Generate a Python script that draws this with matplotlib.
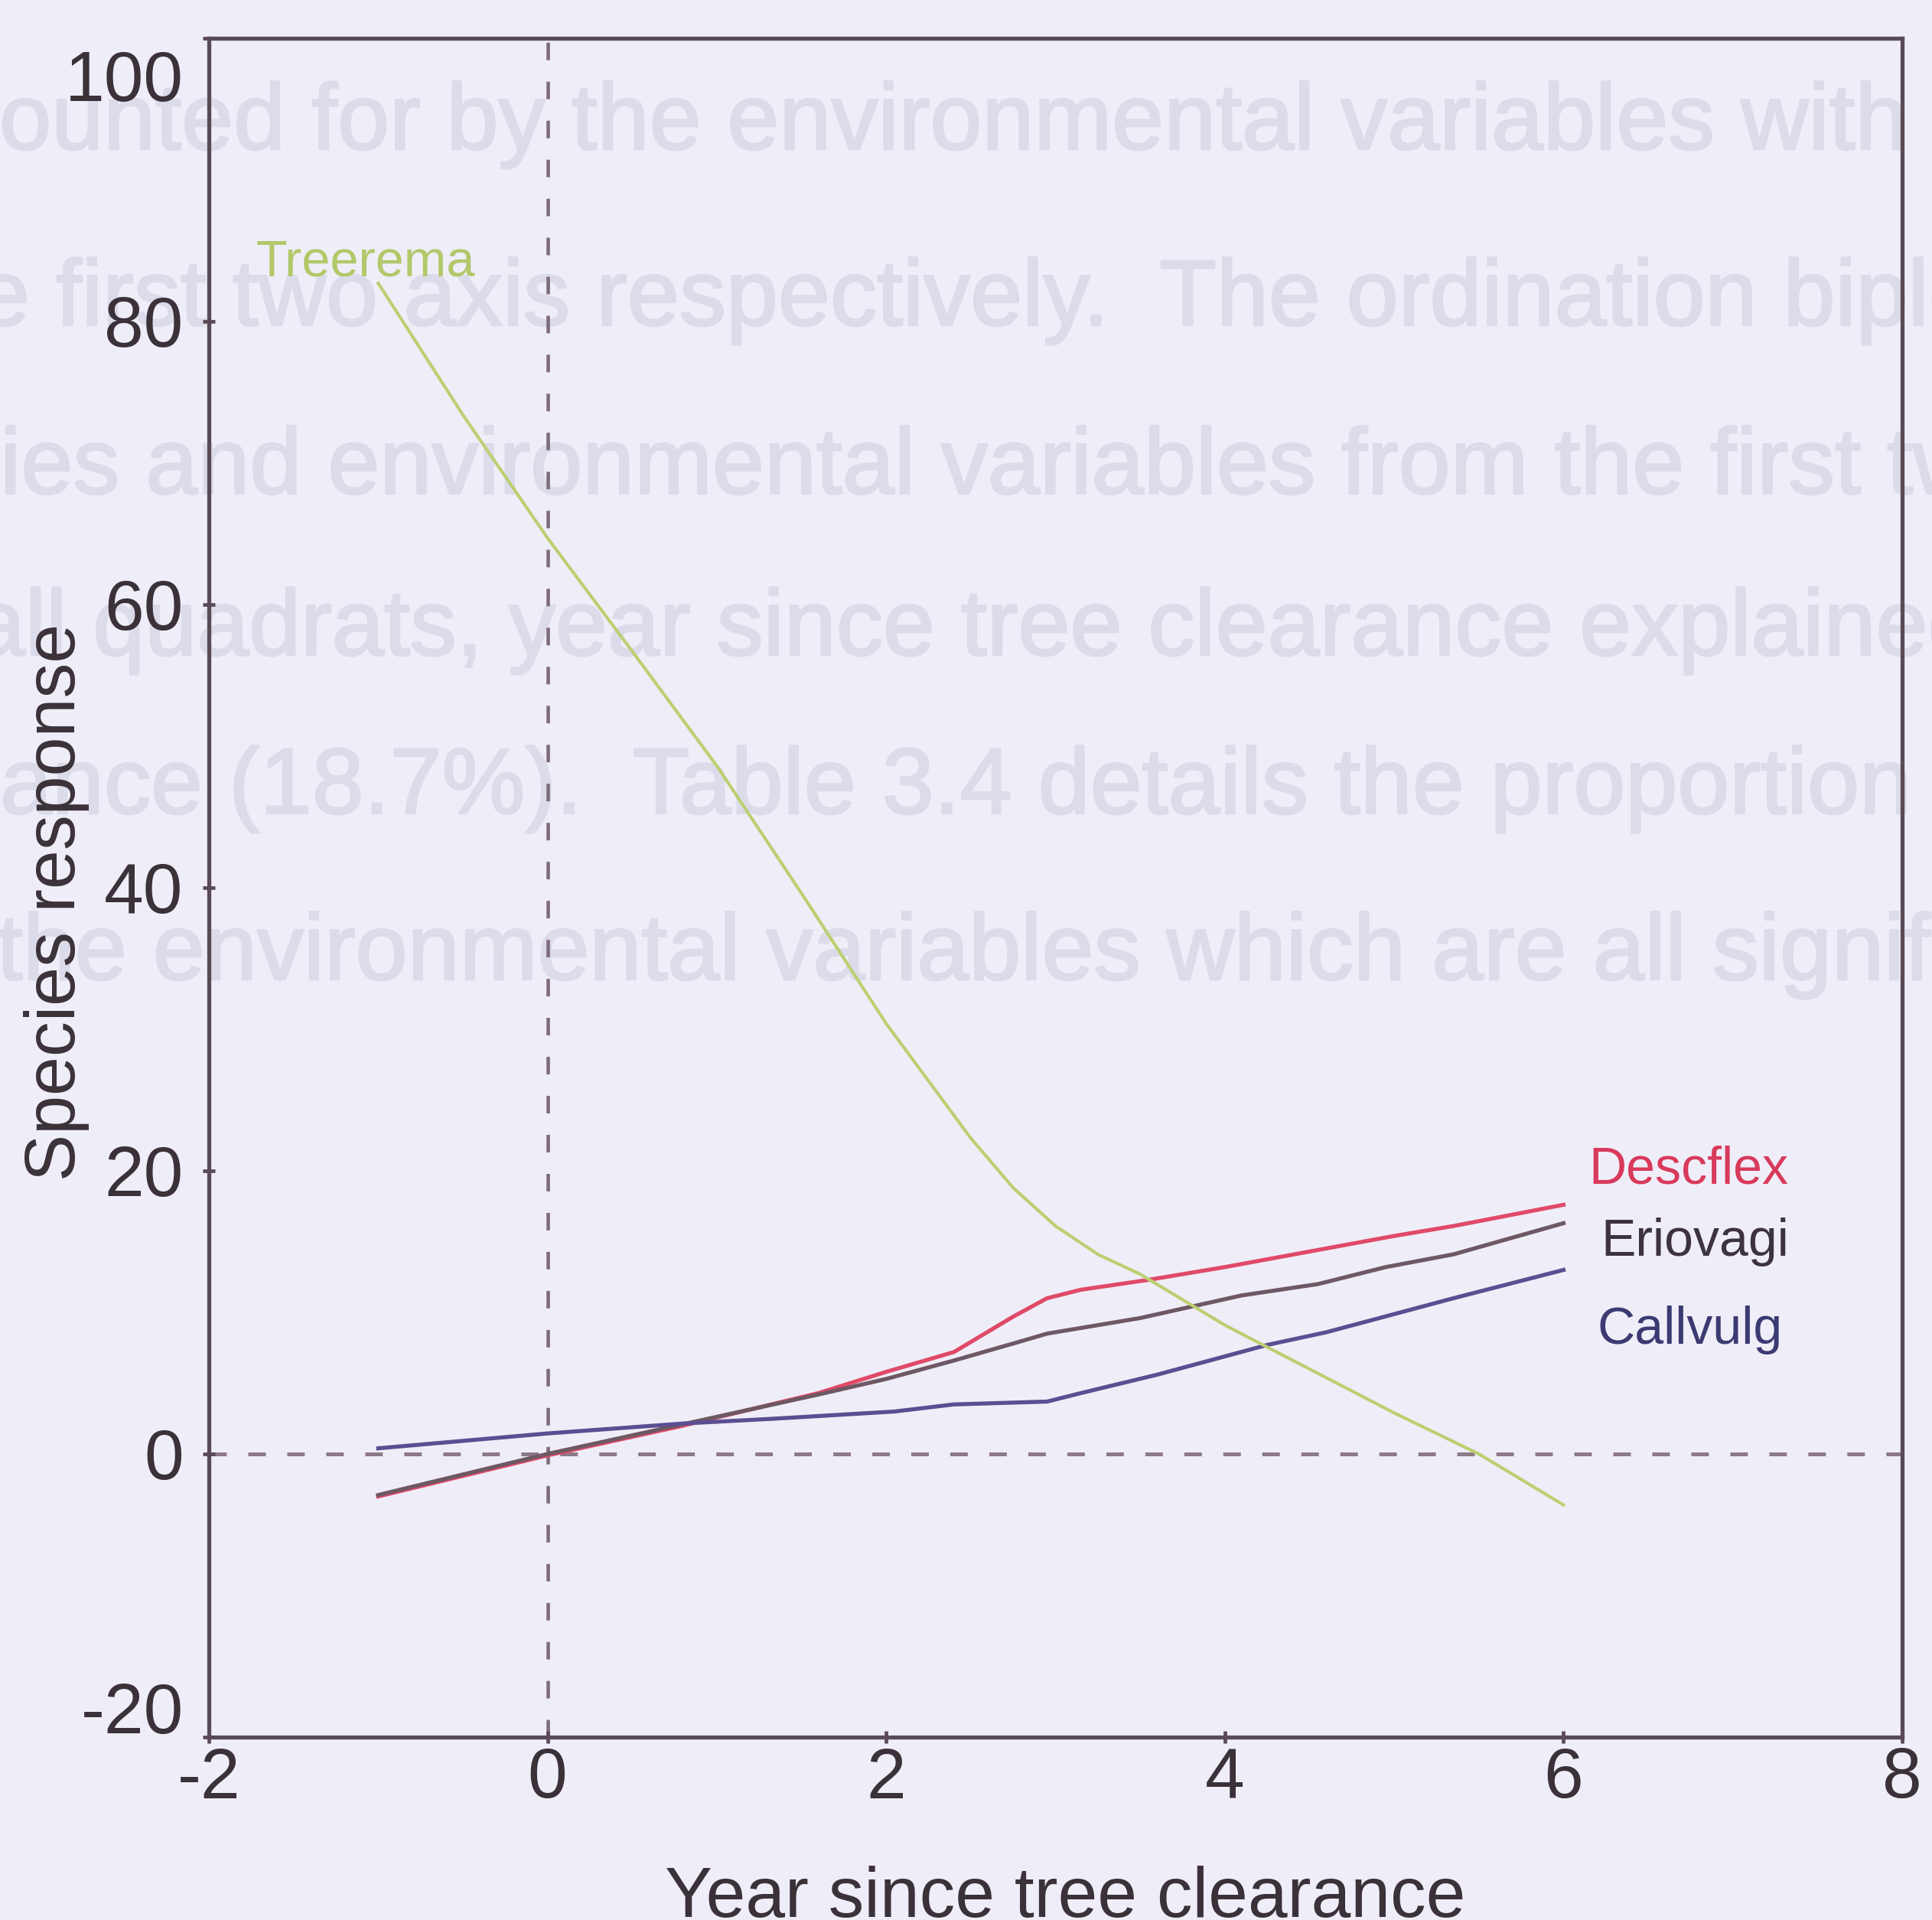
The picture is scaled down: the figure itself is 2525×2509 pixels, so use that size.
import matplotlib.pyplot as plt
import matplotlib.patheffects as pe

# species response curves against years since tree clearance
treerema_x = [-1.0, -0.5, 0.0, 0.5, 1.0, 1.5, 2.0, 2.5, 2.75, 3.0, 3.25, 3.5, 4.0, 4.5, 5.0, 5.5, 6.0]
treerema_y = [82.7, 73.4, 64.7, 56.7, 48.6, 39.6, 30.4, 22.3, 18.8, 16.1, 14.1, 12.7, 9.1, 6.0, 2.9, 0.0, -3.6]

descflex_x = [-1.0, 0.0, 0.8, 1.6, 2.0, 2.4, 2.75, 2.95, 3.15, 3.55, 4.0, 4.5, 5.0, 5.35, 6.0]
descflex_y = [-3.0, -0.1, 2.0, 4.3, 5.8, 7.2, 9.7, 11.0, 11.6, 12.3, 13.2, 14.3, 15.4, 16.1, 17.6]

eriovagi_x = [-1.0, 0.0, 0.8, 1.6, 2.0, 2.4, 2.75, 2.95, 3.5, 4.1, 4.55, 4.95, 5.35, 6.0]
eriovagi_y = [-2.9, 0.0, 2.1, 4.2, 5.3, 6.6, 7.8, 8.5, 9.6, 11.2, 12.0, 13.2, 14.1, 16.3]

callvulg_x = [-1.0, 0.0, 0.8, 1.35, 2.05, 2.4, 2.95, 3.15, 3.6, 4.25, 4.6, 5.35, 6.0]
callvulg_y = [0.4, 1.45, 2.15, 2.5, 3.0, 3.5, 3.7, 4.3, 5.6, 7.7, 8.6, 11.0, 13.0]

x_ticks = [-2, 0, 2, 4, 6, 8]
x_tick_labels = ['-2', '0', '2', '4', '6', '8']
y_ticks = [-20, 0, 20, 40, 60, 80, 100]
y_tick_labels = ['-20', '0', '20', '40', '60', '80', '100']

# faint show-through text from the facing page
page_lines = [
    'accounted for by the environmental variables with',
    'the first two axis respectively.  The ordination biplot',
    'species and environmental variables from the first two',
    'all quadrats, year since tree clearance explained',
    'variance (18.7%).  Table 3.4 details the proportion',
    'of the environmental variables which are all significant',
]
page_x_px = [-191, -131, -258, -35, -197, -140]
page_base_px = [195, 425, 645, 856, 1063, 1280]

BG = '#efeef8'
AXIS = '#5a4a55'
TEXT = '#3b3138'
GHOST = '#dcdbea'

plt.rcParams['font.family'] = ['Liberation Sans', 'DejaVu Sans']
plt.rcParams['lines.scale_dashes'] = False

W, H = 2525, 2509
fig = plt.figure(figsize=(W / 100, H / 100), dpi=100, facecolor=BG)

for txt, xp, yp in zip(page_lines, page_x_px, page_base_px):
    fig.text(xp / W, 1 - yp / H, txt, fontsize=88, color=GHOST,
             ha='left', va='baseline', zorder=-1,
             path_effects=[pe.withStroke(linewidth=2, foreground=GHOST)])

ax = fig.add_axes([273 / W, 239 / H, (2486 - 273) / W, (2270 - 50) / H])
ax.set_facecolor('none')
ax.set_xlim(-2, 8)
ax.set_ylim(-20, 100)

# reference lines through the origin
ax.axhline(0, color='#8c7a86', lw=3.6, dashes=(16.5, 20.2), zorder=1)
ax.axvline(0, color='#7e6c7a', lw=3.3, dashes=(16.5, 20.2), zorder=1)

ax.plot(descflex_x, descflex_y, color='#e04a68', lw=3.8, zorder=3)
ax.plot(eriovagi_x, eriovagi_y, color='#6e5863', lw=3.8, zorder=3)
ax.plot(callvulg_x, callvulg_y, color='#5b4e92', lw=3.8, zorder=3)
ax.plot(treerema_x, treerema_y, color='#bccf72', lw=3.0, zorder=4)

ax.text(-1.72, 83.2, 'Treerema', fontsize=48, color='#b2c86a', ha='left', va='baseline')
ax.text(6.15, 19.1, 'Descflex', fontsize=49, color='#d93a5c', ha='left', va='baseline')
ax.text(6.22, 14.0, 'Eriovagi', fontsize=49, color='#3d3340', ha='left', va='baseline')
ax.text(6.20, 7.8, 'Callvulg', fontsize=49, color='#3c3a72', ha='left', va='baseline')

for side in ['left', 'right', 'top', 'bottom']:
    ax.spines[side].set_color(AXIS)
    ax.spines[side].set_linewidth(3.8)

ax.set_xticks(x_ticks)
ax.set_xticklabels(x_tick_labels)
ax.set_yticks(y_ticks)
# end labels are pulled inside the axis range
ax.set_yticklabels([''] + y_tick_labels[1:-1] + [''])
ax.tick_params(direction='inout', length=12, width=3.4, color=AXIS,
               labelcolor=TEXT, labelsize=67)
ax.tick_params(axis='x', pad=3)
ax.tick_params(axis='y', pad=18)

for lab, yv in [(y_tick_labels[-1], 97.4), (y_tick_labels[0], -17.9)]:
    ax.annotate(lab, xy=(0, yv), xycoords=('axes fraction', 'data'),
                xytext=(-24, 0), textcoords='offset points',
                ha='right', va='center_baseline', fontsize=67, color=TEXT)

fig.text(1392 / W, 1 - 2438 / H, 'Year since tree clearance', fontsize=67,
         color=TEXT, ha='center', va='top')
fig.text(74 / W, 1 - 1179 / H, 'Species response', fontsize=66,
         color=TEXT, ha='center', va='center', rotation=90)

fig.savefig('out.png', dpi=100, facecolor=BG)
